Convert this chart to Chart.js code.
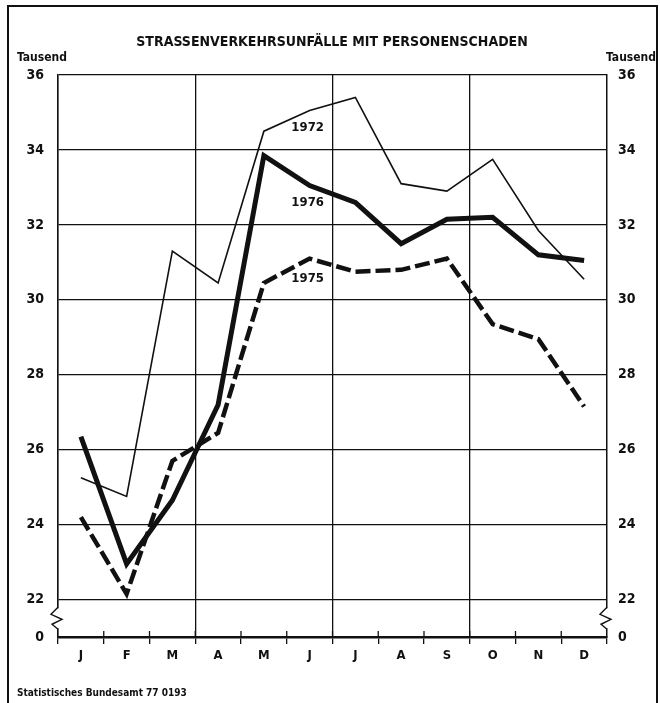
<!DOCTYPE html>
<html>
<head>
<meta charset="utf-8">
<script src="https://cdn.jsdelivr.net/npm/chart.js@4.4.1/dist/chart.umd.min.js"></script>
<style>
  body { margin: 0; background: #fff; }
  #wrap { width: 660px; height: 703px; }
</style>
</head>
<body>
<div id="wrap"><canvas id="grafico" width="660" height="703"></canvas></div>
<script>
// Datos (Tausend)
const meses = ['J', 'F', 'M', 'A', 'M', 'J', 'J', 'A', 'S', 'O', 'N', 'D'];
const y1972 = [25.25, 24.75, 31.3, 30.45, 34.5, 35.05, 35.4, 33.1, 32.9, 33.75, 31.85, 30.55];
const y1976 = [26.35, 22.95, 24.65, 27.2, 33.85, 33.05, 32.6, 31.5, 32.15, 32.2, 31.2, 31.05];
const y1975 = [24.2, 22.15, 25.7, 26.45, 30.45, 31.1, 30.75, 30.8, 31.1, 29.35, 28.95, 27.15];
const ticksY = [21, 22, 24, 26, 28, 30, 32, 34, 36]; // 21 = Achsenbruch, wird als 0 beschriftet
const titulo = 'STRASSENVERKEHRSUNFÄLLE MIT PERSONENSCHADEN';
const unidad = 'Tausend';
const fuente = 'Statistisches Bundesamt 77 0193';

const FONT = '"DejaVu Sans Condensed", "DejaVu Sans", sans-serif';

function etiquetaY(v) {
    return v === 21 ? '0' : String(v);
}

// Texto, marco y rotura del eje
const extras = {
    id: 'extras',
    afterDraw(chart) {
        const ctx = chart.ctx;
        const area = chart.chartArea;
        const x = chart.scales.x;
        const y = chart.scales.y;
        ctx.save();

        // marco
        ctx.strokeStyle = '#111';
        ctx.lineWidth = 2;
        ctx.strokeRect(8, 6, 649, 720);

        ctx.fillStyle = '#111';
        ctx.textBaseline = 'middle';
        ctx.textAlign = 'center';
        ctx.font = 'bold 14px ' + FONT;
        ctx.fillText(titulo, 332, 42);

        ctx.font = 'bold 12px ' + FONT;
        ctx.textAlign = 'left';
        ctx.fillText(unidad, 17, 58);
        ctx.textAlign = 'right';
        ctx.fillText(unidad, 656, 58);

        ctx.textAlign = 'left';
        ctx.font = 'bold 10px ' + FONT;
        ctx.fillText(fuente, 17, 693);

        // nombres de las series
        ctx.font = 'bold 13px ' + FONT;
        ctx.textAlign = 'center';
        const px = x.getPixelForValue(5) - 2;
        ctx.fillText('1972', px, y.getPixelForValue(34.6));
        ctx.fillText('1976', px, y.getPixelForValue(32.6));
        ctx.fillText('1975', px, y.getPixelForValue(30.56));

        // marcas de mes encima del eje 0
        ctx.strokeStyle = '#111';
        ctx.lineWidth = 1.3;
        const y0 = y.getPixelForValue(21);
        for (let i = 1; i < meses.length; i++) {
            const bx = (x.getPixelForValue(i - 1) + x.getPixelForValue(i)) / 2;
            ctx.beginPath();
            ctx.moveTo(bx, y0 - 6);
            ctx.lineTo(bx, y0);
            ctx.stroke();
        }

        // rotura del eje (zigzag) a ambos lados
        const yb = y.getPixelForValue(21.5);
        [area.left, area.right].forEach(ax => {
            ctx.fillStyle = '#fff';
            ctx.fillRect(ax - 2, yb - 10, 4, 20);
            ctx.beginPath();
            ctx.moveTo(ax, yb - 11);
            ctx.lineTo(ax - 7, yb - 4);
            ctx.lineTo(ax + 4, yb + 1);
            ctx.lineTo(ax - 6, yb + 6);
            ctx.lineTo(ax, yb + 11);
            ctx.lineWidth = 1.4;
            ctx.stroke();
        });
        ctx.restore();
    }
};

const ctx = document.getElementById('grafico').getContext('2d');
new Chart(ctx, {
    type: 'line',
    data: {
        labels: meses,
        datasets: [
            {
                label: '1972',
                data: y1972,
                borderColor: '#111',
                borderWidth: 1.6,
                pointRadius: 0,
                tension: 0
            },
            {
                label: '1976',
                data: y1976,
                borderColor: '#111',
                borderWidth: 5,
                borderJoinStyle: 'miter',
                pointRadius: 0,
                tension: 0
            },
            {
                label: '1975',
                data: y1975,
                borderColor: '#111',
                borderWidth: 4.5,
                borderDash: [15, 5],
                pointRadius: 0,
                tension: 0
            }
        ]
    },
    options: {
        responsive: false,
        animation: false,
        layout: { padding: { top: 75, left: 0, right: 0, bottom: 0 } },
        plugins: {
            legend: { display: false },
            tooltip: { enabled: false }
        },
        scales: {
            x: {
                offset: true,
                grid: {
                    offset: true,
                    color: c => (c.index % 3 === 0 ? '#111' : 'rgba(0,0,0,0)'),
                    lineWidth: 1.3,
                    drawTicks: true,
                    tickLength: 7,
                    tickColor: '#111'
                },
                border: { display: true, color: '#111', width: 2.5 },
                ticks: {
                    color: '#111',
                    padding: 4,
                    font: { family: FONT, size: 13, weight: 'bold' },
                    maxRotation: 0,
                    autoSkip: false
                },
                afterFit: s => { s.height = 66; }
            },
            y: {
                min: 21,
                max: 36,
                afterBuildTicks: s => { s.ticks = ticksY.map(v => ({ value: v })); },
                grid: {
                    color: '#111',
                    lineWidth: c => (c.tick && c.tick.value === 21 ? 0 : 1.3),
                    drawTicks: false
                },
                border: { display: true, color: '#111', width: 1.5 },
                ticks: {
                    color: '#111',
                    padding: 14,
                    font: { family: FONT, size: 14, weight: 'bold' },
                    callback: v => etiquetaY(v)
                },
                afterFit: s => { s.width = 58; }
            },
            y2: {
                position: 'right',
                min: 21,
                max: 36,
                afterBuildTicks: s => { s.ticks = ticksY.map(v => ({ value: v })); },
                grid: { display: false, drawTicks: false },
                border: { display: true, color: '#111', width: 1.5 },
                ticks: {
                    color: '#111',
                    padding: 11,
                    font: { family: FONT, size: 14, weight: 'bold' },
                    callback: v => etiquetaY(v)
                },
                afterFit: s => { s.width = 53; }
            }
        }
    },
    plugins: [extras]
});
</script>
</body>
</html>
